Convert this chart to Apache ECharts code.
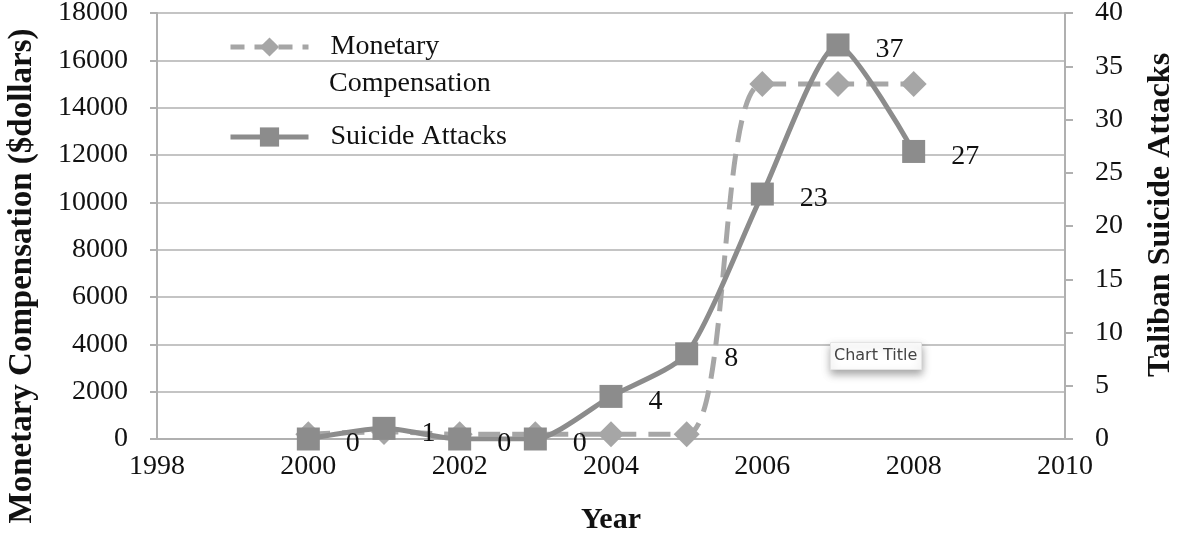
<!DOCTYPE html>
<html>
<head>
<meta charset="utf-8">
<script src="https://cdn.jsdelivr.net/npm/echarts@6/dist/echarts.min.js"></script>
<style>
html,body{margin:0;padding:0;background:#fff;}
#chart{width:1179px;height:540px;}
</style>
</head>
<body>
<div id="chart"></div>
<script>
var years = [2000, 2001, 2002, 2003, 2004, 2005, 2006, 2007, 2008];
var compensation = [200, 300, 200, 200, 200, 200, 15000, 15000, 15000];
var attacks = [0, 1, 0, 0, 4, 8, 23, 37, 27];
var leftTicks = {min: 0, max: 18000, interval: 2000};
var rightTicks = {min: 0, max: 40, interval: 5};
var xTicks = {min: 1998, max: 2010, interval: 2};

var serif = '"Liberation Serif", "DejaVu Serif", serif';
var chart = echarts.init(document.getElementById('chart'));

function pairs(xs, ys) { return xs.map(function (x, i) { return [x, ys[i]]; }); }
function plain(v) { return String(v); }

chart.setOption({
  animation: false,
  backgroundColor: '#ffffff',
  title: {
    text: 'Chart Title',
    left: 830, top: 342,
    padding: [6, 4, 6, 4],
    backgroundColor: '#ffffff',
    borderColor: '#e4e4e4', borderWidth: 1,
    shadowBlur: 8, shadowColor: 'rgba(0,0,0,0.35)', shadowOffsetY: 4,
    textStyle: {fontFamily: '"DejaVu Sans", sans-serif', fontSize: 16, fontWeight: 'normal', color: '#444'}
  },
  grid: {left: 157, right: 114, top: 13, bottom: 101, containLabel: false, outerBoundsMode: 'none'},
  legend: [
    {
      data: [{name: 'Monetary Compensation',
        itemStyle: {color: '#a6a6a6'},
        lineStyle: {color: '#a6a6a6', width: 5, type: [14, 10]}}],
      left: 228, top: 33, itemWidth: 78, itemHeight: 24, padding: 0,
      formatter: function () { return 'Monetary'; },
      textStyle: {fontFamily: serif, fontSize: 28, color: '#111', padding: [0, 0, 0, 17]}
    },
    {
      data: [{name: 'Suicide Attacks',
        itemStyle: {color: '#8c8c8c'},
        lineStyle: {color: '#8c8c8c', width: 5}}],
      left: 228, top: 123, itemWidth: 78, itemHeight: 24, padding: 0,
      textStyle: {fontFamily: serif, fontSize: 28, color: '#111', padding: [0, 0, 0, 17]}
    }
  ],
  graphic: [{
    type: 'text', left: 329, top: 70,
    style: {text: 'Compensation', font: '28px ' + serif, fill: '#111'}
  }],
  xAxis: {
    type: 'value', min: xTicks.min, max: xTicks.max, interval: xTicks.interval,
    name: 'Year', nameLocation: 'middle', nameGap: 66,
    nameTextStyle: {fontFamily: serif, fontSize: 30, fontWeight: 'bold', color: '#111'},
    axisLine: {show: true, onZero: false, lineStyle: {color: '#b0b0b0', width: 2}},
    axisTick: {show: false},
    splitLine: {show: false},
    axisLabel: {margin: 14, fontFamily: serif, fontSize: 28, color: '#111', formatter: plain}
  },
  yAxis: [
    {
      type: 'value', position: 'left', min: leftTicks.min, max: leftTicks.max, interval: leftTicks.interval,
      name: 'Monetary Compensation ($dollars)', nameLocation: 'middle', nameGap: 118, nameRotate: 90,
      nameTextStyle: {fontFamily: serif, fontSize: 33, fontWeight: 'bold', color: '#111', padding: [0, 100, 0, 0]},
      axisLine: {show: true, lineStyle: {color: '#b0b0b0', width: 2}},
      axisTick: {show: true, length: 7, lineStyle: {color: '#b0b0b0', width: 2}},
      splitLine: {show: true, lineStyle: {color: '#c4c4c4', width: 2}},
      axisLabel: {margin: 29, fontFamily: serif, fontSize: 28, color: '#111', formatter: plain}
    },
    {
      type: 'value', position: 'right', min: rightTicks.min, max: rightTicks.max, interval: rightTicks.interval,
      name: 'Taliban Suicide Attacks', nameLocation: 'middle', nameGap: 80, nameRotate: 90,
      nameTextStyle: {fontFamily: serif, fontSize: 32, fontWeight: 'bold', color: '#111', padding: [0, 0, 0, 22]},
      axisLine: {show: true, lineStyle: {color: '#b0b0b0', width: 2}},
      axisTick: {show: true, length: 8, lineStyle: {color: '#b0b0b0', width: 2}},
      splitLine: {show: false},
      axisLabel: {margin: 30, fontFamily: serif, fontSize: 28, color: '#111', formatter: plain}
    }
  ],
  series: [
    {
      name: 'Monetary Compensation', type: 'line', yAxisIndex: 0,
      data: pairs(years, compensation),
      smooth: 0.35,
      symbol: 'diamond', symbolSize: 26,
      lineStyle: {color: '#a6a6a6', width: 5, type: [22, 12]},
      itemStyle: {color: '#a6a6a6'},
      z: 2
    },
    {
      name: 'Suicide Attacks', type: 'line', yAxisIndex: 1,
      data: pairs(years, attacks),
      smooth: 0.22,
      symbol: 'rect', symbolSize: 23,
      lineStyle: {color: '#8c8c8c', width: 5},
      itemStyle: {color: '#8c8c8c'},
      label: {show: true, position: 'right', distance: 26, offset: [0, 5],
        fontFamily: serif, fontSize: 28, color: '#111'},
      z: 3
    }
  ]
});
</script>
</body>
</html>
